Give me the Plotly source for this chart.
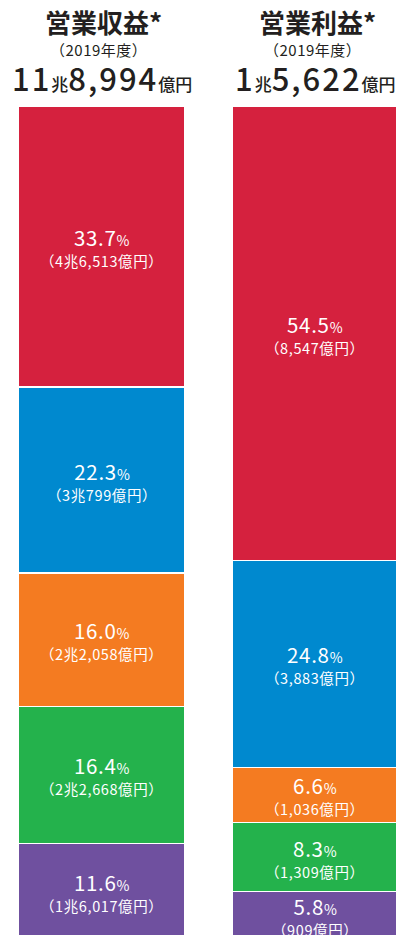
import plotly.graph_objects as go

# ---- data ----
categories = ["営業収益", "営業利益"]
segment_colors = ["#D5213E", "#0089CF", "#F47B21", "#24B24C", "#6F509F"]  # top -> bottom
revenue_pct = [33.7, 22.3, 16.0, 16.4, 11.6]
revenue_amt = ["4兆6,513億円", "3兆799億円", "2兆2,058億円", "2兆2,668億円", "1兆6,017億円"]
profit_pct = [54.5, 24.8, 6.6, 8.3, 5.8]
profit_amt = ["8,547億円", "3,883億円", "1,036億円", "1,309億円", "909億円"]
totals_big = [("11", "8,994"), ("1", "5,622")]
year_label = "（2019年度）"

# ---- layout constants ----
W, H = 400, 935
TOP = 106
x_pos = [101.5, 314.5]
bar_w = [167, 165]
FONT = "Noto Sans CJK JP"
TXT = "#231F20"

fig = go.Figure()
n = len(revenue_pct)
for i in reversed(range(n)):
    fig.add_trace(go.Bar(
        x=x_pos, y=[revenue_pct[i], profit_pct[i]], width=bar_w,
        marker=dict(color=segment_colors[i], line=dict(color="white", width=1.2)),
        hoverinfo="skip", showlegend=False,
    ))

annotations = []
for pcts, amts, xc in [(revenue_pct, revenue_amt, x_pos[0]), (profit_pct, profit_amt, x_pos[1])]:
    cum = 100.0
    for p, a in zip(pcts, amts):
        mid = cum - p / 2
        cum -= p
        annotations.append(dict(
            x=xc, y=mid, xref="x", yref="y", showarrow=False,
            text=(f"<span style='font-size:20.5px;letter-spacing:0.7px'>{p:.1f}</span>"
                  f"<span style='font-size:14px'>%</span><br>"
                  f"<span style='font-size:14.5px;letter-spacing:0.6px'>（{a}）</span>"),
            font=dict(family=FONT, size=16.5, color="white"), align="center",
            xanchor="center", yanchor="middle",
        ))

plot_h = H - TOP


def py(pix):
    return 1 + (TOP - pix) / plot_h


for cat, (big1, big2), xc in zip(categories, totals_big, [103, 317]):
    annotations.append(dict(x=xc, y=py(21), xref="x", yref="paper", showarrow=False,
                            text=f"<b>{cat}*</b>", font=dict(family=FONT, size=26, color=TXT),
                            xanchor="center", yanchor="middle"))
    annotations.append(dict(x=xc - 5, y=py(50), xref="x", yref="paper", showarrow=False,
                            text=f"<span style='letter-spacing:0.5px'>{year_label}</span>",
                            font=dict(family=FONT, size=15, color=TXT),
                            xanchor="center", yanchor="middle"))
    annotations.append(dict(x=xc - 1.5, y=py(78), xref="x", yref="paper", showarrow=False,
                            text=(f"<span style='font-size:31px;letter-spacing:2px'>{big1}</span>"
                                  f"<span style='font-size:17px'>兆</span>"
                                  f"<span style='font-size:31px;letter-spacing:2px'>{big2}</span>"
                                  f"<span style='font-size:17px'>億円</span>"),
                            font=dict(family=FONT, size=31, color=TXT, weight=500),
                            xanchor="center", yanchor="middle"))

fig.update_layout(
    width=W, height=H,
    margin=dict(l=0, r=0, t=TOP, b=0),
    barmode="stack",
    paper_bgcolor="white", plot_bgcolor="white",
    xaxis=dict(range=[0, W], visible=False, fixedrange=True),
    yaxis=dict(range=[0.6, 100], visible=False, fixedrange=True),
    annotations=annotations,
)

fig.write_html("out.html", config={"displayModeBar": False, "staticPlot": True},
               post_script="document.body.style.margin='0';document.body.style.overflow='hidden';")
